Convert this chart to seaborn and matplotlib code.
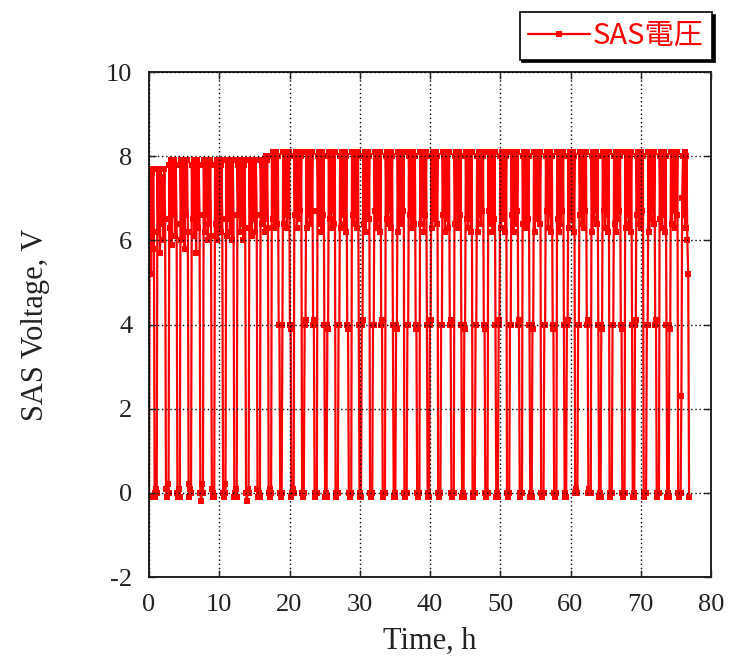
import numpy as np
import pandas as pd
import matplotlib
matplotlib.use("Agg")
import matplotlib.pyplot as plt
import seaborn as sns

# Orbit-by-orbit SAS voltage telemetry.
# Each orbit: sunlight samples, optional 4 V step, eclipse samples (values in 0.1 V).
orbit_start_h = [
    0.0, 1.2, 2.9, 4.5, 6.1, 7.8, 9.4, 11.0, 12.6, 14.3, 15.9, 17.5,
    19.1, 20.7, 22.4, 24.0, 25.6, 27.2, 28.9, 30.5, 32.1, 33.7, 35.4, 37.0,
    38.6, 40.2, 41.8, 43.5, 45.1, 46.7, 48.3, 50.0, 51.6, 53.2, 54.8, 56.5,
    58.1, 59.7, 61.3, 63.0, 64.6, 66.2, 67.8, 69.4, 71.1, 72.7, 74.3, 75.9,
]
record_end_h = 77.0

orbit_decivolts = [
    "-1 70 77 52 76 58 77 62 0 -1 1 0",
    "77 62 76 57 77 64 75 60 77 65 1 -1 2 0",
    "78 63 79 59 78 66 79 61 78 64 0 -1 1 -1",
    "79 60 78 64 79 58 78 66 79 62 2 -1 1 0",
    "78 65 79 61 78 57 79 63 78 66 0 -2 2 0",
    "79 62 78 66 79 60 78 64 79 61 1 -1 0 -1",
    "78 64 79 60 78 66 79 62 78 65 0 -1 2 0",
    "79 61 78 65 79 62 78 60 79 66 -1 0 1 -1",
    "78 66 79 62 78 64 79 60 78 63 0 -2 1 0",
    "79 63 78 61 79 65 78 62 79 66 1 -1 0 -1",
    "79 64 78 66 79 62 80 65 79 63 0 -1 1 0",
    "80 65 81 63 80 66 81 64 80 40 40 0 -1 0 40",
    "81 64 80 67 81 63 80 66 81 40 39 -1 0 1 0",
    "80 66 81 63 80 65 81 67 80 0 -1 0 40 41",
    "81 63 80 66 81 64 80 67 81 40 41 0 -1 0 0",
    "80 67 81 64 80 62 81 66 80 40 -1 0 -1 40 39",
    "81 65 80 63 81 67 80 64 81 0 -1 0 0 40 40",
    "80 63 81 66 80 64 81 62 80 40 39 0 -1 0 0",
    "81 66 80 64 81 67 80 63 81 40 -1 0 -1 40 41",
    "80 64 81 62 80 66 81 65 80 0 -1 0 0 40 40",
    "81 67 80 63 81 65 80 62 81 40 41 0 -1 0 0",
    "80 65 81 64 80 67 81 63 80 40 -1 0 -1 40 39",
    "81 62 80 66 81 64 80 67 81 0 -1 0 0 40 40",
    "80 66 81 63 80 65 81 64 80 40 39 0 -1 0 0",
    "81 64 80 67 81 62 80 66 81 40 -1 0 -1 40 41",
    "80 63 81 65 80 67 81 64 80 0 -1 0 0 40 40",
    "81 66 80 62 81 65 80 63 81 40 41 0 -1 0 0",
    "80 64 81 67 80 63 81 66 80 40 -1 0 -1 40 39",
    "81 65 80 63 81 66 80 62 81 0 -1 0 0 40 40",
    "80 62 81 66 80 64 81 67 80 40 39 0 -1 0 0",
    "81 67 80 64 81 62 80 65 81 40 -1 0 -1 40 41",
    "80 63 81 66 80 65 81 62 80 0 -1 0 0 40 40",
    "81 66 80 62 81 64 80 67 81 40 41 0 -1 0 0",
    "80 64 81 67 80 63 81 65 80 40 -1 0 -1 40 39",
    "81 62 80 65 81 67 80 64 81 0 -1 0 0 40 40",
    "80 67 81 63 80 66 81 62 80 40 39 0 -1 0 0",
    "81 65 80 62 81 64 80 67 81 40 -1 0 -1 40 41",
    "80 63 81 66 80 65 81 62 80 0 1 0 0 40 40",
    "81 66 80 64 81 63 80 67 81 40 41 0 1 0 0",
    "80 62 81 65 80 67 81 64 80 40 -1 0 -1 40 39",
    "81 67 80 63 81 66 80 62 81 0 -1 0 0 40 40",
    "80 64 81 62 80 65 81 67 80 40 39 0 -1 0 0",
    "81 63 80 66 81 64 80 62 81 40 -1 0 -1 40 41",
    "80 66 81 64 80 63 81 67 80 0 -1 0 0 40 40",
    "81 62 80 65 81 67 80 64 81 40 41 0 -1 0 0",
    "80 65 81 63 80 66 81 62 80 40 -1 0 -1 40 39",
    "81 64 80 67 81 63 80 66 81 0 -1 0 0 23",
    "70 80 66 81 63 80 60 52 -1",
]

x_ticks = [0, 10, 20, 30, 40, 50, 60, 70, 80]
y_ticks = [-2, 0, 2, 4, 6, 8, 10]
series_label = "SAS電圧"
x_label = "Time, h"
y_label = "SAS Voltage, V"

# Assemble the time series, spacing each orbit's samples evenly in time
times, volts = [], []
for k, seq in enumerate(orbit_decivolts):
    vals = [int(v) / 10.0 for v in seq.split()]
    t0 = orbit_start_h[k]
    t1 = orbit_start_h[k + 1] if k + 1 < len(orbit_start_h) else record_end_h
    times.extend(np.linspace(t0, t1, len(vals), endpoint=False))
    volts.extend(vals)
df = pd.DataFrame({"time": times, "voltage": volts})

sns.set_theme(style="ticks")
plt.rcParams["font.family"] = ["Liberation Serif", "DejaVu Serif"]
plt.rcParams["axes.unicode_minus"] = False

fig = plt.figure(figsize=(7.34, 6.64), dpi=100)
ax = fig.add_axes([149 / 734, 87 / 664, (711 - 149) / 734, (577 - 72) / 664])

red = "#FF0000"
sns.lineplot(data=df, x="time", y="voltage", ax=ax, estimator=None, sort=False,
             color=red, linewidth=1.6, marker="s", markersize=3.8,
             markeredgewidth=0, label=series_label, legend=False)

ax.set_xlim(0, 80)
ax.set_ylim(-2, 10)
ax.set_xticks(x_ticks)
ax.set_yticks(y_ticks)
ax.tick_params(direction="in", length=5, width=1, top=True, right=True,
               labelsize=19, colors="#222222")
ax.tick_params(axis="x", pad=12)
ax.tick_params(axis="y", pad=12)
for sp in ax.spines.values():
    sp.set_color("#111111")
    sp.set_linewidth(1.3)
ax.set_axisbelow(False)
ax.grid(True, color="black", linestyle=(0, (1, 2)), linewidth=1.0)

ax.set_xlabel(x_label, fontsize=22, color="#222222", labelpad=8)
ax.set_ylabel(y_label, fontsize=22, color="#222222", labelpad=40)

handles, labels = ax.get_lines()[:1], [series_label]
leg = fig.legend(handles, labels, loc="upper right",
                 bbox_to_anchor=(712 / 734, 1 - 12 / 664),
                 bbox_transform=fig.transFigure, borderaxespad=0,
                 fancybox=False, frameon=True, edgecolor="black",
                 shadow={"color": "black", "alpha": 1.0},
                 handlelength=2.1, handletextpad=0.1, borderpad=0.3,
                 prop={"family": ["Noto Sans CJK JP", "DejaVu Sans"], "size": 21})
leg.get_frame().set_linewidth(1.2)
for txt in leg.get_texts():
    txt.set_color(red)

fig.savefig("out.png", dpi=100)
